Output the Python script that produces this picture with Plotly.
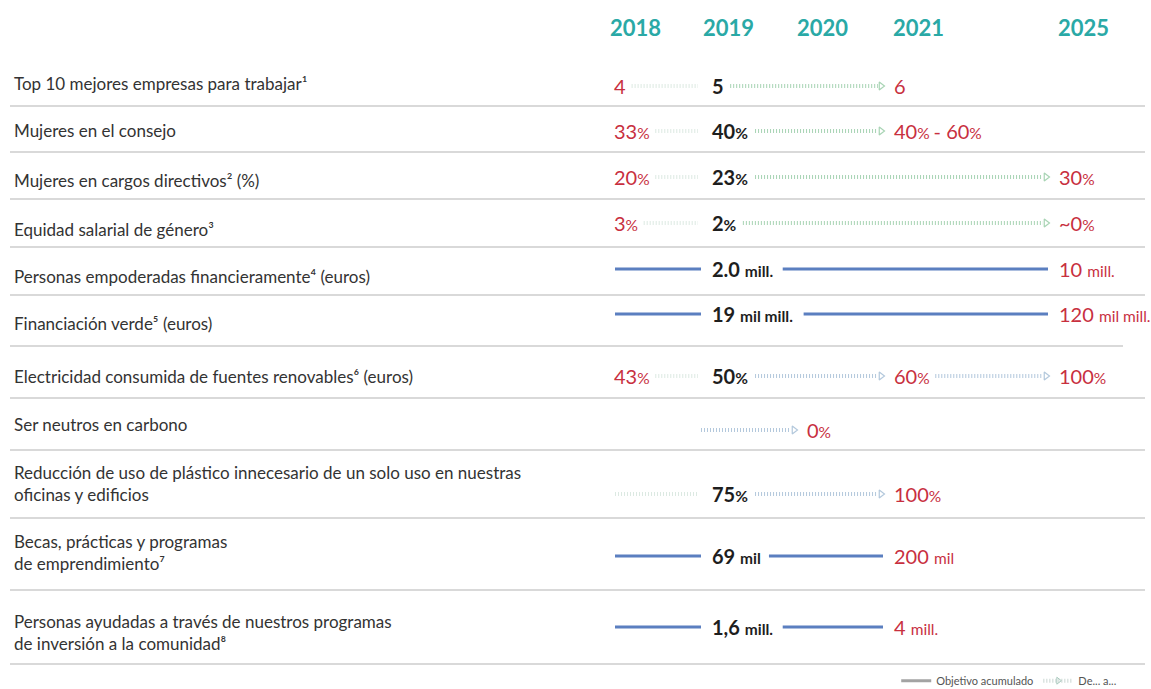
import re
import plotly.graph_objects as go

# ---- data -------------------------------------------------------------
years = ["2018", "2019", "2020", "2021", "2025"]

row_labels = [
    "Top 10 mejores empresas para trabajar¹",
    "Mujeres en el consejo",
    "Mujeres en cargos directivos² (%)",
    "Equidad salarial de género³",
    "Personas empoderadas financieramente⁴ (euros)",
    "Financiación verde⁵ (euros)",
    "Electricidad consumida de fuentes renovables⁶ (euros)",
    "Ser neutros en carbono",
    "Reducción de uso de plástico innecesario de un solo uso en nuestras<br>oficinas y edificios",
    "Becas, prácticas y programas<br>de emprendimiento⁷",
    "Personas ayudadas a través de nuestros programas<br>de inversión a la comunidad⁸",
]

val_2018 = ["4", "33%", "20%", "3%", "", "", "43%", "", "", "", ""]
val_2019 = ["5", "40%", "23%", "2%", "2.0 mill.", "19 mil mill.", "50%", "", "75%", "69 mil", "1,6 mill."]
val_2020 = ["", "", "", "", "", "", "", "0%", "", "", ""]
val_2021 = ["6", "40% - 60%", "", "", "", "", "60%", "", "100%", "200 mil", "4 mill."]
val_2025 = ["", "", "30%", "~0%", "10 mill.", "120 mil mill.", "100%", "", "", "", ""]

# "range" = De... a... (dotted arrow), "cumulative" = Objetivo acumulado (solid line)
link_style = ["range", "range", "range", "range", "cumulative", "cumulative",
              "range", "range", "range", "cumulative", "cumulative"]
start_year = ["2018", "2018", "2018", "2018", "2018", "2018", "2018", "2019", "2018", "2018", "2018"]

legend_names = ["Objetivo acumulado", "De... a..."]

# ---- layout constants -------------------------------------------------
W, H = 1151, 689
FONT = "Lato, 'Open Sans', sans-serif"
RED = "#c8303f"
TEAL = "#2aa9a6"
BLUE = "#5b7fc0"
SEP = "#d9d9d9"
BIG, SMALL = 20, 15.5

value_x = {"2018": 612, "2019": 710, "2020": 805, "2021": 892, "2025": 1057}
header_x = {"2018": 635, "2019": 728, "2020": 822, "2021": 918, "2025": 1083}
label_y = [83, 130, 180, 229, 276, 323, 376, 424, 483, 552, 632]
value_y = [86, 131, 177, 223, 269, 314, 376, 430, 494, 556, 627]
sep_y = [106, 152, 199, 247, 295, 346, 398, 450, 518, 590, 664]
sep_end = [1145, 1145, 1145, 1145, 1145, 1123, 1145, 1145, 1145, 1145, 1145]
dot_tint = ["#a8d4b4"] * 4 + [None, None] + ["#b3c8dc"] * 3 + [None, None]
LEAD_TINT = "#dce9e2"

columns = {"2018": val_2018, "2019": val_2019, "2020": val_2020, "2021": val_2021, "2025": val_2025}


def split_units(s):
    # number parts and unit parts ("%", "mil", "mill.")
    return [p for p in re.split(r"([A-Za-z%][A-Za-z%. ]*)", s) if p != ""]


def rich(s, bold):
    out = ""
    for p in split_units(s):
        if re.match(r"[A-Za-z%]", p):
            out += f"<span style='font-size:{SMALL}px'>{p}</span>"
        else:
            out += p
    return f"<b>{out}</b>" if bold else out


def est_width(s, bold):
    w = 0.0
    k = 1.05 if bold else 1.0
    for p in split_units(s):
        unit = bool(re.match(r"[A-Za-z%]", p))
        size = SMALL if unit else BIG
        for ch in p:
            if ch.isdigit() or ch == "~":
                r = 0.58
            elif ch in ".,":
                r = 0.26
            elif ch == " ":
                r = 0.26
            elif ch == "%":
                r = 0.78
            elif ch == "m":
                r = 0.86
            elif ch in "il":
                r = 0.25
            elif ch == "-":
                r = 0.36
            else:
                r = 0.5
            w += r * size * k
    return w


fig = go.Figure()

blue_x, blue_y = [], []
dot_segments = []   # (x0, x1, y, color, arrow)

for i in range(len(row_labels)):
    stops = []
    started = False
    for yr in years:
        txt = columns[yr][i]
        if yr == start_year[i]:
            started = True
        if not started:
            continue
        if txt:
            left = value_x[yr]
            stops.append((left, left + est_width(txt, yr == "2019"), yr, True))
        elif yr == start_year[i]:
            x0 = 615 if yr == "2018" else 701
            stops.append((x0, x0, yr, False))
    for a, b in zip(stops, stops[1:]):
        if link_style[i] == "cumulative":
            blue_x += [a[1] + (7 if a[3] else 0), b[0] - 9, None]
            blue_y += [value_y[i], value_y[i], None]
        else:
            lead = b[2] == "2019"
            x0 = a[1] + (8 if a[3] else 0)
            x1 = b[0] - (12 if lead else 14)
            dot_segments.append((x0, x1, value_y[i], LEAD_TINT if lead else dot_tint[i], not lead))

fig.add_trace(go.Scatter(x=blue_x, y=blue_y, mode="lines", line=dict(color=BLUE, width=3),
                         hoverinfo="skip", showlegend=False))
for x0, x1, y, col, arrow in dot_segments:
    fig.add_trace(go.Scatter(x=[x0, x1], y=[y, y], mode="lines",
                             line=dict(color=col, width=4, dash="1px,2px"),
                             hoverinfo="skip", showlegend=False))
    if arrow:
        fig.add_trace(go.Scatter(x=[x1 + 3], y=[y], mode="markers",
                                 marker=dict(symbol="triangle-right-open", size=7, color=col,
                                             line=dict(width=1.2, color=col)),
                                 hoverinfo="skip", showlegend=False))

# legend entries
fig.add_trace(go.Scatter(x=[None], y=[None], mode="lines", name=legend_names[0],
                         line=dict(color="#a3a3a3", width=3)))
fig.add_trace(go.Scatter(x=[None], y=[None], mode="lines+markers", name=legend_names[1],
                         line=dict(color="#c9d6d2", width=4, dash="1px,2px"),
                         marker=dict(symbol="triangle-right-open", size=6, color="#a9c9bd")))

annotations = []
for yr in years:
    annotations.append(dict(x=header_x[yr], y=27, text=f"<b>{yr}</b>", showarrow=False,
                            xanchor="center", yanchor="middle",
                            font=dict(family=FONT, size=22, color=TEAL)))

for i, lab in enumerate(row_labels):
    annotations.append(dict(x=12, y=label_y[i], text=lab, showarrow=False, align="left",
                            xanchor="left", yanchor="middle",
                            font=dict(family=FONT, size=17, color="#333333")))
    for yr in years:
        txt = columns[yr][i]
        if not txt:
            continue
        annotations.append(dict(x=value_x[yr], y=value_y[i], text=rich(txt, yr == "2019"),
                                showarrow=False, xanchor="left", yanchor="middle",
                                font=dict(family=FONT, size=BIG,
                                          color="#1e1e1e" if yr == "2019" else RED)))

shapes = [dict(type="line", x0=10, x1=sep_end[i], y0=y, y1=y, layer="below",
               line=dict(color=SEP, width=2)) for i, y in enumerate(sep_y)]

fig.update_layout(
    width=W, height=H,
    margin=dict(l=0, r=0, t=0, b=0, autoexpand=False),
    paper_bgcolor="white", plot_bgcolor="white",
    xaxis=dict(range=[0, W], visible=False, fixedrange=True),
    yaxis=dict(range=[H, 0], visible=False, fixedrange=True),
    annotations=annotations, shapes=shapes,
    legend=dict(orientation="h", x=0.975, xanchor="right", y=-0.009, yanchor="bottom",
                font=dict(family=FONT, size=11, color="#555555"),
                bgcolor="rgba(0,0,0,0)", itemwidth=30, tracegroupgap=0),
)

fig.write_html("out.html", post_script="document.body.style.margin='0';",
               config={"displayModeBar": False})
